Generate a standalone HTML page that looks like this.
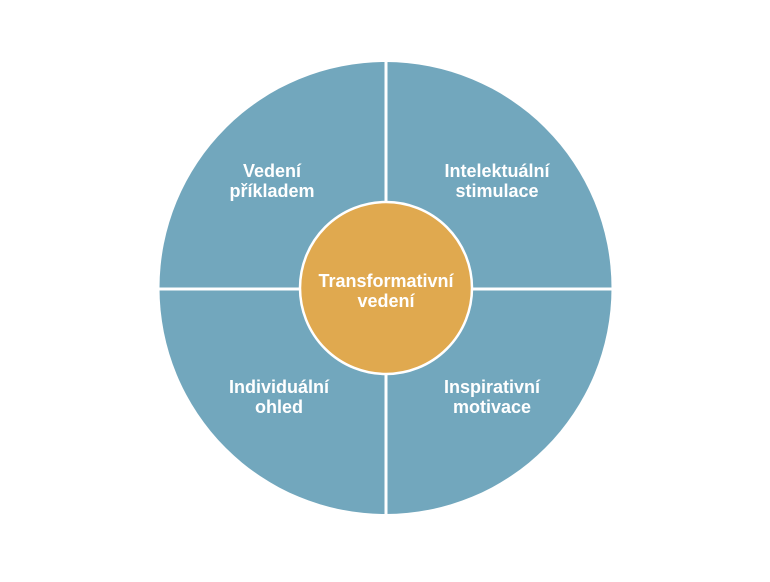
<!DOCTYPE html>
<html><head><meta charset="utf-8"><style>html,body{margin:0;padding:0;background:#fff;}</style></head><body>
<svg width="770" height="577" viewBox="0 0 770 577" xmlns="http://www.w3.org/2000/svg">
<circle cx="385.5" cy="288" r="226" fill="#72a7bd"/>
<line x1="386" y1="55" x2="386" y2="520" stroke="#fff" stroke-width="3"/>
<line x1="155" y1="289" x2="616" y2="289" stroke="#fff" stroke-width="3"/>
<circle cx="386" cy="288" r="86" fill="#e0a94f" stroke="#fff" stroke-width="2.5"/>
<g font-family="Liberation Sans, sans-serif" font-weight="bold" font-size="18" fill="#fff" text-anchor="middle">
<text x="272" y="177">Vedení</text><text x="272" y="197">příkladem</text>
<text x="497" y="177">Intelektuální</text><text x="497" y="197">stimulace</text>
<text x="386" y="287">Transformativní</text><text x="386" y="307">vedení</text>
<text x="279" y="393">Individuální</text><text x="279" y="413">ohled</text>
<text x="492" y="393">Inspirativní</text><text x="492" y="413">motivace</text>
</g>
</svg>
</body></html>
